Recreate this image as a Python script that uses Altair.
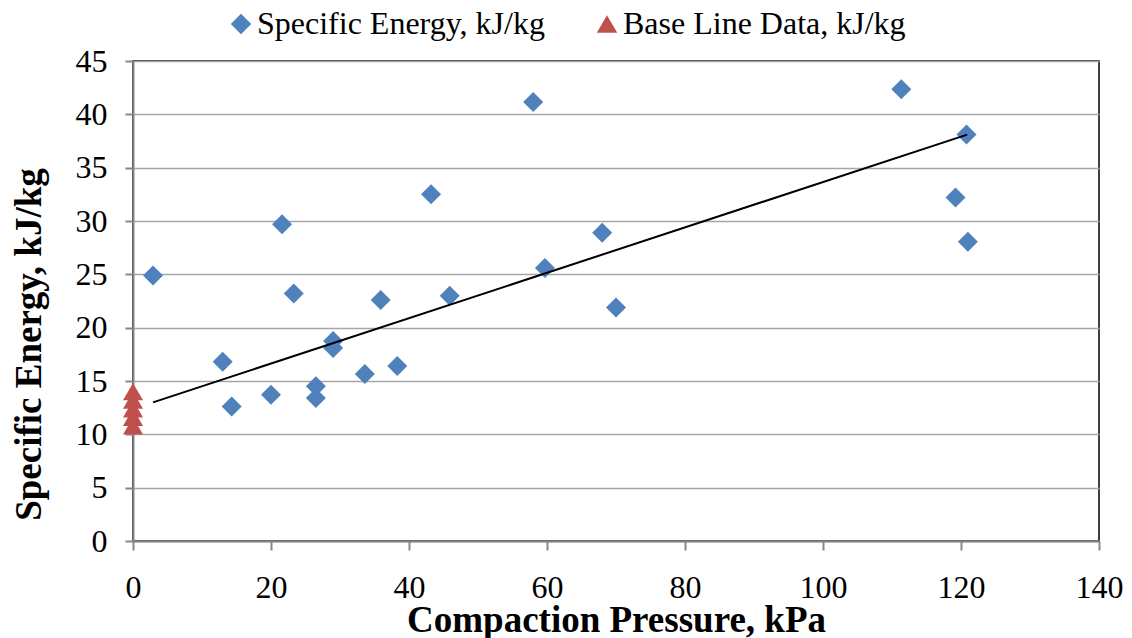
import altair as alt
import pandas as pd

# Specific Energy series (Compaction Pressure kPa, Specific Energy kJ/kg)
se_x = [2.9, 13.0, 14.3, 20.0, 21.6, 23.3, 26.5, 26.5, 29.0, 29.0, 33.6, 35.9,
        38.3, 43.2, 45.9, 58.0, 59.7, 68.0, 70.0, 111.35, 120.8, 119.2, 121.0]
se_y = [24.9, 16.8, 12.6, 13.7, 29.7, 23.2, 14.5, 13.4, 18.75, 18.1, 15.65, 22.6,
        16.4, 32.5, 23.0, 41.15, 25.6, 28.9, 21.9, 42.35, 38.1, 32.2, 28.06]

# Base line data (at zero compaction pressure)
bl_x = [0, 0, 0, 0, 0]
bl_y = [14.0, 13.2, 12.4, 11.6, 10.8]

# Trend line end points
trend_x = [2.9, 120.9]
trend_y = [13.0, 38.1]

SE = "Specific Energy, kJ/kg"
BL = "Base Line Data, kJ/kg"

points = pd.concat([
    pd.DataFrame({"x": se_x, "y": se_y, "series": SE}),
    pd.DataFrame({"x": bl_x, "y": bl_y, "series": BL}),
], ignore_index=True)
trend = pd.DataFrame({"x": trend_x, "y": trend_y})

FONT = "Liberation Serif"

xenc = alt.X("x:Q",
             scale=alt.Scale(domain=[0, 140], nice=False),
             axis=alt.Axis(values=list(range(0, 141, 20)), grid=False, labelFlush=False,
                           title="Compaction Pressure, kPa",
                           titleY=90, titleBaseline="alphabetic"))
yenc = alt.Y("y:Q",
             scale=alt.Scale(domain=[0, 45], nice=False),
             axis=alt.Axis(values=list(range(0, 46, 5)), grid=True, labelFlush=False,
                           title="Specific Energy, kJ/kg",
                           titleX=-93, titleY=283, titleAngle=270,
                           titleAlign="center", titleBaseline="alphabetic"))

leg = alt.Legend(title=None, orient="none", direction="horizontal",
                 legendX=92, legendY=-53)

pts = alt.Chart(points).mark_point(filled=True, size=400, opacity=1).encode(
    x=xenc,
    y=yenc,
    color=alt.Color("series:N",
                    scale=alt.Scale(domain=[SE, BL], range=["#4F81BD", "#C0504D"]),
                    legend=leg),
    shape=alt.Shape("series:N",
                    scale=alt.Scale(domain=[SE, BL], range=["diamond", "triangle-up"]),
                    legend=leg),
)

line = alt.Chart(trend).mark_line(color="black", strokeWidth=2).encode(
    x="x:Q", y="y:Q")

chart = alt.layer(pts, line).properties(
    width=966, height=480,
    autosize=alt.AutoSizeParams(type="none"),
    padding={"left": 125, "top": 53, "right": 25, "bottom": 97},
).configure_view(
    stroke="black", strokeWidth=1.5
).configure_axis(
    labelFont=FONT, labelFontSize=32, labelColor="black",
    titleFont=FONT, titleFontSize=37, titleFontWeight="bold", titleColor="black",
    domainColor="#868686", domainWidth=2, tickColor="#868686", tickWidth=2,
    gridColor="#A6A6A6", gridWidth=1.5, zindex=0,
).configure_axisX(
    tickSize=9, labelPadding=22,
).configure_axisY(
    tickSize=8, labelPadding=18,
).configure_legend(
    labelFont=FONT, labelFontSize=32, labelColor="black",
    symbolSize=420, symbolOpacity=1, symbolStrokeWidth=0, labelOffset=0,
    columnPadding=46, padding=0, labelLimit=400,
)

chart.save("out.html", embed_options={"renderer": "svg", "actions": False})
